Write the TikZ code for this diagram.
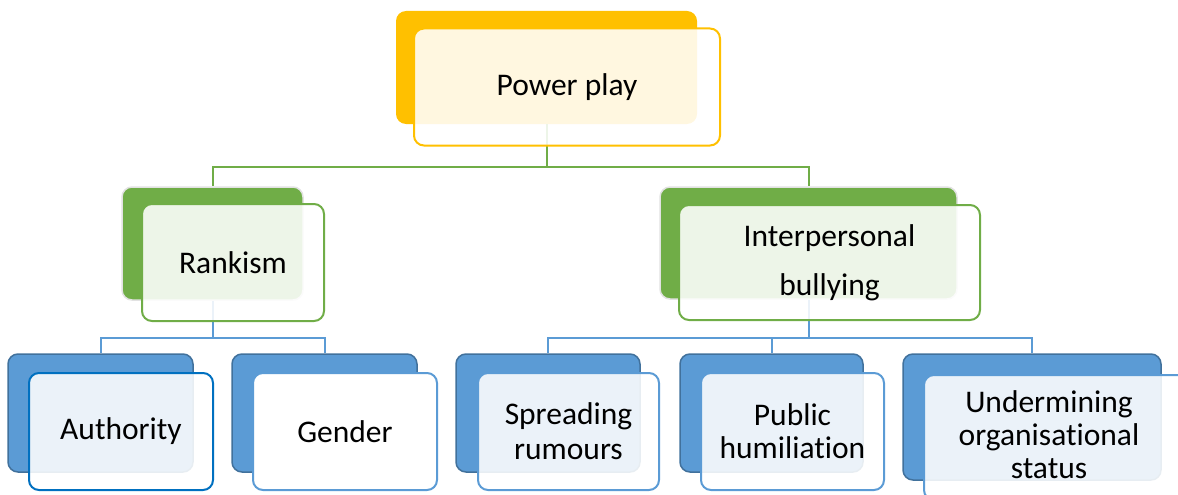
\documentclass[tikz,border=0pt]{standalone}
\usepackage{fontspec}
\setmainfont[Ligatures={NoCommon}]{Carlito}
\definecolor{orng}{HTML}{FFC000}
\definecolor{grn}{HTML}{70AD47}
\definecolor{blu}{HTML}{5B9BD5}
\definecolor{bluedge}{HTML}{41719C}
\definecolor{bluedark}{HTML}{0070C0}
\definecolor{glow}{HTML}{E2E2E2}
\begin{document}
\begin{tikzpicture}[x=1pt,y=-1pt,
  box/.style={rectangle,rounded corners=10pt,inner sep=0pt},
  backo/.style={box,fill=orng},
  backg/.style={box,fill=grn,draw=glow,line width=1.5pt},
  backb/.style={box,fill=blu,draw=bluedge,line width=1.5pt},
  front/.style={box,fill=white,fill opacity=0.88,text opacity=1,line width=2pt,align=center,font=\fontsize{31.5}{36}\selectfont},
  frnto/.style={front,draw=orng},
  frntg/.style={front,draw=grn},
  frntb/.style={front,draw=blu},
  conng/.style={draw=grn,line width=2pt},
  connb/.style={draw=blu,line width=2pt}]
\useasboundingbox (0,0) rectangle (1178,495);
% back boxes
\node[backo,minimum width=301pt,minimum height=113pt] (ppb) at (546.5,67.5) {};
\node[backg,minimum width=181pt,minimum height=113pt] (rkb) at (212.5,243.5) {};
\node[backg,minimum width=297pt,minimum height=112pt] (ipb) at (808.5,243) {};
\node[backb,minimum width=185pt,minimum height=118pt] (aub) at (100.5,413) {};
\node[backb,minimum width=185pt,minimum height=118pt] (geb) at (324.5,413) {};
\node[backb,minimum width=184pt,minimum height=118pt] (spb) at (548,413) {};
\node[backb,minimum width=183pt,minimum height=118pt] (pub) at (771.5,413) {};
\node[backb,minimum width=258pt,minimum height=126pt] (unb) at (1032,417) {};
% connectors
\coordinate (g1) at (0,167);
\coordinate (b1) at (0,338);
\draw[conng] (ppb.south) -- (ppb.south |- g1) -| (rkb.north);
\draw[conng] (ppb.south |- g1) -| (ipb.north);
\draw[connb] (rkb.south) -- (rkb.south |- b1) -| (aub.north);
\draw[connb] (rkb.south |- b1) -| (geb.north);
\draw[connb] (ipb.south) -- (ipb.south |- b1) -| (spb.north);
\draw[connb] (ipb.south |- b1) -| (pub.north);
\draw[connb] (ipb.south |- b1) -| (unb.north);
% front boxes
\node[frnto,minimum width=306pt,minimum height=117pt] (ppf) at (567,87) {Power play};
\node[frntg,minimum width=182pt,minimum height=117pt] (rkf) at (233,262.5) {Rankism};
\node[frntg,minimum width=301pt,minimum height=115pt,font=\fontsize{31.5}{49}\selectfont] (ipf) at (829.5,262.5) {Interpersonal\\bullying};
\node[frntb,draw=bluedark,minimum width=184pt,minimum height=117pt] (auf) at (121,431.5) {Authority};
\node[frntb,fill opacity=1,minimum width=184pt,minimum height=117pt] (gef) at (345,431.5) {Gender};
\node[frntb,minimum width=181pt,minimum height=117pt,font=\fontsize{31.5}{35}\selectfont] (spf) at (568.5,431.5) {Spreading\\rumours};
\node[frntb,minimum width=183pt,minimum height=117pt,font=\fontsize{31.5}{33}\selectfont] (puf) at (792.5,431.5) {Public\\humiliation};
\node[frntb,minimum width=266pt,minimum height=125pt] (unf) at (1057,437.5) {};
\node[font=\fontsize{31.5}{33}\selectfont,align=center,inner sep=0pt] (unt) at (1049,435) {Undermining\\organisational\\status};
\end{tikzpicture}
\end{document}
